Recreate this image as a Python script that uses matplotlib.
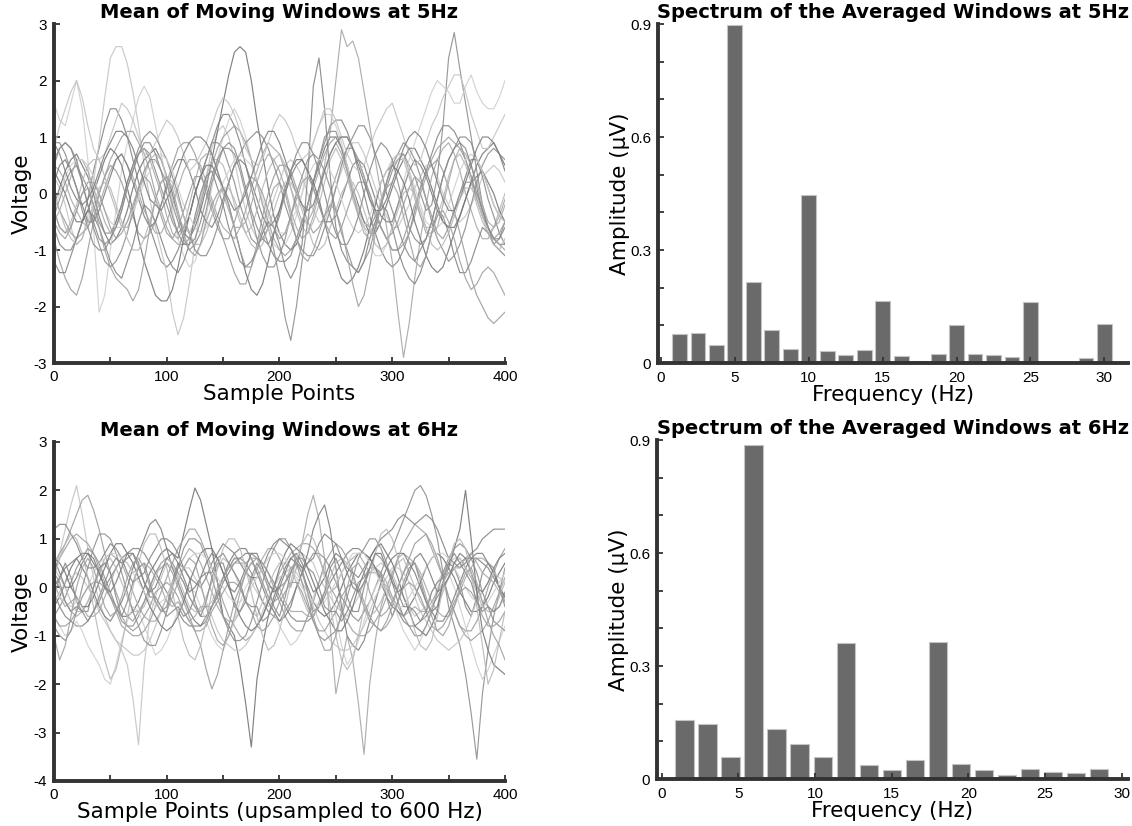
import matplotlib.pyplot as plt
from matplotlib.ticker import MultipleLocator
import numpy as np

plt.rcParams['axes.unicode_minus'] = False

# ---- data ----
# moving windows, 5 Hz condition: voltage every 5 sample points (0..400)
win5 = [
    [-0.6, -0.9, -1.0, -1.0, -0.8, -0.5, -0.1, 0.4, 0.8, 1.2,
     1.5, 1.5, 1.3, 1.0, 0.6, 0.2, -0.2, -0.6, -0.9, -1.2,
     -1.3, -1.2, -1.0, -0.7, -0.4, 0.0, 0.3, 0.6, 0.9, 1.2,
     1.4, 1.4, 1.2, 0.9, 0.5, 0.1, -0.3, -0.6, -0.9, -1.1,
     -1.2, -1.2, -1.1, -0.8, -0.5, -0.2, 0.2, 0.6, 0.9, 1.2,
     1.3, 1.3, 1.1, 0.8, 0.4, 0.0, -0.4, -0.7, -1.0, -1.2,
     -1.3, -1.2, -1.0, -0.7, -0.3, 0.1, 0.4, 0.7, 1.0, 1.2,
     1.2, 1.1, 0.9, 0.6, 0.3, -0.1, -0.4, -0.6, -0.8, -0.9, -0.9],
    [0.3, 0.1, -0.2, -0.6, -0.9, -0.8, -0.4, 0.2, 0.9, 1.7,
     2.4, 2.6, 2.6, 2.3, 1.8, 1.2, 0.5, -0.1, -0.6, -1.0,
     -1.4, -2.1, -2.5, -2.2, -1.6, -0.9, -0.2, 0.3, 0.8, 1.1,
     1.2, 1.0, 0.6, 0.1, -0.3, -0.6, -0.8, -0.7, -0.4, -0.1,
     0.2, 0.5, 0.6, 0.5, 0.3, 0.0, -0.3, -0.5, -0.5, -0.2,
     0.1, 0.4, 0.7, 0.9, 0.9, 0.7, 0.4, 0.1, -0.2, -0.4,
     -0.6, -0.6, -0.4, -0.2, 0.1, 0.3, 0.5, 0.5, 0.3, 0.0,
     -0.2, -0.4, -0.5, -0.4, -0.2, 0.0, 0.3, 0.4, 0.5, 0.4, 0.2],
    [-0.2, 0.1, 0.4, 0.6, 0.7, 0.5, 0.3, 0.0, -0.4, -0.7,
     -0.9, -0.8, -0.6, -0.3, 0.1, 0.4, 0.6, 0.7, 0.8, 0.6,
     0.3, 0.0, -0.4, -0.7, -0.8, -0.6, -0.3, 0.1, 0.6, 1.1,
     1.6, 2.1, 2.5, 2.6, 2.5, 2.0, 1.3, 0.7, 0.1, -0.4,
     -0.7, -0.9, -1.0, -0.9, -0.6, -0.2, 0.2, 0.5, 0.8, 1.0,
     1.0, 0.8, 0.5, 0.1, -0.2, -0.5, -0.7, -0.7, -0.5, -0.2,
     0.1, 0.4, 0.6, 0.8, 0.8, 0.6, 0.4, 0.1, -0.2, -0.5,
     -0.6, -0.6, -0.4, -0.1, 0.2, 0.5, 0.7, 0.8, 0.9, 0.7, 0.5],
    [0.5, 0.4, 0.2, -0.1, -0.3, -0.5, -0.6, -0.4, -0.2, 0.1,
     0.4, 0.6, 0.7, 0.5, 0.3, 0.0, -0.3, -0.5, -0.7, -0.7,
     -0.5, -0.2, 0.1, 0.4, 0.6, 0.6, 0.5, 0.2, -0.1, -0.4,
     -0.6, -0.7, -0.8, -0.6, -0.3, 0.1, 0.4, 0.7, 0.9, 0.8,
     0.7, 0.4, 0.1, -0.2, -0.5, -0.5, -0.3, 0.1, 0.5, 1.1,
     2.0, 2.9, 2.6, 2.7, 2.4, 1.8, 1.2, 0.6, 0.0, -0.6,
     -1.2, -2.1, -2.9, -2.3, -1.5, -0.8, -0.2, 0.3, 0.6, 0.8,
     0.9, 0.7, 0.4, 0.0, -0.3, -0.6, -0.8, -0.8, -0.6, -0.4, -0.1],
    [-0.4, -0.1, 0.2, 0.4, 0.5, 0.3, 0.1, -0.2, -0.5, -0.7,
     -0.7, -0.5, -0.2, 0.2, 0.5, 0.7, 0.8, 0.7, 0.4, 0.1,
     -0.2, -0.5, -0.7, -0.6, -0.4, 0.0, 0.3, 0.6, 0.9, 0.9,
     0.8, 0.5, 0.2, -0.2, -0.5, -0.8, -0.9, -0.8, -0.6, -1.0,
     -1.5, -2.2, -2.6, -2.0, -1.2, -0.5, 0.2, 0.6, 1.0, 1.1,
     1.1, 0.8, 0.4, 0.0, -0.3, -0.5, -0.6, -0.4, -0.2, 0.1,
     0.4, 0.6, 0.7, 0.5, 0.3, 0.0, -0.3, -0.2, 0.3, 1.2,
     2.4, 2.85, 2.2, 1.6, 1.0, 0.4, -0.2, -0.6, -0.9, -0.8, -0.5],
    [1.6, 1.3, 1.2, 1.6, 2.0, 1.5, 0.6, -0.6, -2.1, -1.8,
     -1.0, -0.3, 0.4, 0.9, 1.3, 1.7, 1.9, 1.7, 1.2, 0.7,
     0.2, -0.3, -0.8, -1.1, -1.3, -1.2, -0.9, -0.4, 0.1, 0.6,
     1.0, 1.3, 1.5, 1.3, 1.0, 0.6, 0.2, -0.2, -0.6, -0.9,
     -1.0, -0.9, -0.7, -0.4, 0.0, 0.5, 0.9, 1.2, 1.4, 1.4,
     1.2, 0.9, 0.5, 0.1, -0.3, -0.6, -0.9, -1.1, -1.1, -0.9,
     -0.6, -0.2, 0.2, 0.6, 0.9, 1.2, 1.5, 1.8, 2.0, 1.9,
     1.8, 1.6, 1.6, 1.9, 2.1, 1.8, 1.6, 1.5, 1.5, 1.7, 2.0],
    [-0.8, -1.2, -1.5, -1.7, -1.8, -1.5, -1.0, -0.5, 0.0, 0.3,
     0.5, 0.4, 0.2, -0.1, -0.4, -0.7, -0.8, -0.7, -0.5, -0.2,
     0.2, 0.5, 0.8, 0.9, 0.9, 0.7, 0.4, 0.0, -0.3, -0.6,
     -0.8, -1.1, -1.4, -1.6, -1.6, -1.3, -0.9, -0.4, 0.0, 0.3,
     0.5, 0.5, 0.4, 0.1, -0.2, -0.5, -0.7, -0.6, -0.4, 0.0,
     0.3, 0.6, 0.8, 0.8, 0.6, 0.3, 0.0, -0.3, -0.6, -0.8,
     -1.0, -1.0, -0.8, -0.5, -0.2, 0.1, 0.4, 0.5, 0.6, 0.4,
     0.1, -0.3, -0.7, -1.1, -1.5, -1.8, -2.0, -2.2, -2.3, -2.2, -2.1],
    [0.2, 0.5, 0.6, 0.4, 0.1, -0.2, -0.5, -0.5, -0.3, 0.0,
     0.3, 0.6, 0.7, 0.5, 0.2, -0.1, -0.4, -0.6, -0.5, -0.2,
     0.1, 0.4, 0.6, 0.6, 0.4, 0.1, -0.3, -0.5, -0.6, -0.4,
     -0.1, 0.2, 0.5, 0.6, 0.5, 0.2, -0.1, -0.4, -0.6, -0.5,
     -0.3, 0.0, 0.3, 0.5, 0.6, 0.4, 0.1, -0.2, -0.5, -0.5,
     -0.4, -0.1, 0.2, 0.5, 0.6, 0.5, 0.2, -0.1, -0.4, -0.5,
     -0.5, -0.2, 0.1, 0.4, 0.6, 0.5, 0.3, 0.0, -0.3, -0.5,
     -0.6, -0.3, 0.0, 0.3, 0.6, 0.6, 0.4, 0.1, -0.2, -0.4, -0.5],
    [-0.3, -0.6, -0.7, -0.5, -0.2, 0.2, 0.5, 0.6, 0.6, 0.3,
     0.0, -0.3, -0.6, -0.6, -0.4, 0.0, 0.3, 0.6, 0.7, 0.6,
     0.3, -0.1, -0.4, -0.6, -0.7, -0.5, -0.1, 0.3, 0.6, 0.6,
     0.5, 0.2, -0.2, -0.5, -0.7, -0.6, -0.3, 0.1, 0.4, 0.6,
     0.7, 0.5, 0.1, -0.3, -0.6, -0.7, -0.5, -0.2, 0.2, 0.6,
     0.8, 0.6, 0.3, -0.1, -0.4, -0.6, -0.7, -0.5, -0.1, 0.2,
     0.5, 0.6, 0.6, 0.3, -0.1, -0.4, -0.6, -0.6, -0.4, -0.1,
     0.3, 0.6, 0.7, 0.5, 0.2, -0.2, -0.5, -0.7, -0.6, -0.3, 0.0],
    [0.9, 0.9, 0.7, 0.4, 0.1, -0.3, -0.6, -0.9, -1.0, -1.0,
     -0.8, -0.5, -0.2, 0.2, 0.5, 0.8, 1.0, 1.1, 1.0, 0.8,
     0.6, 0.3, 0.0, -0.4, -0.7, -1.0, -1.1, -1.1, -0.9, -0.6,
     -0.2, 0.2, 0.5, 0.7, 0.9, 1.0, 1.1, 1.0, 0.8, 0.5,
     0.2, -0.2, -0.5, -0.8, -1.0, -1.1, -1.1, -0.9, -0.6, -0.3,
     0.1, 0.5, 0.8, 1.0, 1.2, 1.2, 1.0, 0.7, 0.4, 0.0,
     -0.3, -0.6, -0.9, -1.1, -1.2, -1.0, -0.8, -0.5, -0.1, 0.3,
     0.6, 0.8, 1.0, 1.0, 0.9, 0.6, 0.3, -0.1, -0.4, -0.7, -0.9],
    [0.0, -0.3, -0.5, -0.7, -0.8, -0.7, -0.6, -0.3, 0.0, 0.3,
     0.6, 0.8, 1.0, 1.1, 1.1, 0.9, 0.7, 0.4, 0.0, -0.3,
     -0.6, -0.8, -0.9, -0.9, -0.8, -0.5, -0.2, 0.2, 0.5, 0.8,
     1.0, 1.1, 1.2, 1.1, 0.9, 0.6, 0.2, -0.2, -0.5, -0.8,
     -1.0, -1.1, -1.0, -0.8, -0.5, -0.2, 0.1, 0.4, 0.7, 0.9,
     1.0, 1.0, 1.0, 0.8, 0.6, 0.3, -0.1, -0.4, -0.6, -0.8,
     -1.0, -1.0, -0.9, -0.7, -0.4, 0.0, 0.3, 0.6, 0.8, 0.9,
     1.0, 0.9, 0.8, 0.6, 0.3, 0.0, -0.3, -0.6, -0.8, -0.9, -1.0],
    [-1.2, -1.4, -1.4, -1.1, -0.8, -0.5, -0.3, -0.4, -0.6, -0.9,
     -1.2, -1.4, -1.5, -1.2, -0.9, -0.5, -0.2, -0.3, -0.5, -0.8,
     -1.1, -1.3, -1.4, -1.2, -0.9, -0.4, 0.0, 0.3, 0.4, 0.1,
     -0.2, -0.6, -0.9, -1.2, -1.3, -1.2, -1.0, -0.7, -0.5, -0.6,
     -0.9, -1.3, -1.5, -1.3, -0.9, 0.3, 1.9, 2.4, 1.5, 0.3,
     -0.6, -1.0, -1.2, -1.3, -1.4, -1.2, -0.8, -0.5, -0.2, -0.3,
     -0.6, -1.0, -1.3, -1.5, -1.6, -1.4, -1.1, -0.7, -0.3, -0.4,
     -0.7, -1.1, -1.4, -1.4, -1.2, -0.9, -0.6, -0.7, -0.9, -1.0, -1.1],
    [0.8, 1.2, 1.5, 1.8, 2.0, 1.7, 1.2, 0.8, 0.6, 0.7,
     1.0, 1.3, 1.6, 1.5, 1.3, 1.0, 0.7, 0.7, 0.9, 1.1,
     1.3, 1.2, 1.0, 0.7, 0.4, 0.5, 0.7, 0.9, 1.2, 1.5,
     1.7, 1.6, 1.4, 1.1, 0.8, 0.6, 0.5, 0.6, 0.9, 1.2,
     1.4, 1.3, 1.1, 0.8, 0.6, 0.7, 0.9, 1.2, 1.5, 1.5,
     1.3, 1.0, 0.7, 0.5, 0.4, 0.5, 0.8, 1.1, 1.3, 1.5,
     1.6, 1.3, 1.0, 0.7, 0.5, 0.6, 0.9, 1.2, 1.4, 1.7,
     1.9, 2.1, 2.1, 1.8, 1.4, 1.1, 0.8, 0.8, 1.0, 1.2, 1.4],
    [0.4, 0.2, 0.0, -0.3, -0.5, -0.5, -0.3, 0.0, 0.3, 0.6,
     0.8, 0.7, 0.5, 0.1, -0.3, -0.8, -1.2, -1.5, -1.8, -1.9,
     -1.9, -1.7, -1.3, -0.8, -0.4, 0.0, 0.3, 0.5, 0.5, 0.3,
     0.1, -0.2, -0.6, -1.0, -1.4, -1.7, -1.8, -1.6, -1.2, -0.7,
     -0.3, 0.1, 0.4, 0.6, 0.6, 0.4, 0.2, -0.1, -0.5, -0.9,
     -1.2, -1.5, -1.6, -1.5, -1.3, -1.0, -0.6, -0.2, 0.2, 0.4,
     0.5, 0.4, 0.2, -0.1, -0.5, -0.8, -1.1, -1.3, -1.4, -1.3,
     -1.0, -0.7, -0.4, -0.1, 0.2, 0.3, 0.4, 0.2, 0.0, -0.3, -0.5],
    [-0.5, -0.3, 0.0, 0.3, 0.6, 0.6, 0.4, 0.1, -0.2, -0.5,
     -0.7, -0.6, -0.3, 0.1, 0.4, 0.7, 0.8, 0.6, 0.3, 0.0,
     -0.4, -0.7, -0.8, -0.6, -0.2, 0.2, 0.6, 0.7, 0.7, 0.4,
     0.0, -0.3, -0.6, -0.6, -0.5, -0.2, 0.2, 0.5, 0.7, 0.6,
     0.4, 0.1, -0.3, -0.6, -0.8, -0.7, -0.4, 0.0, 0.4, 0.7,
     0.9, 0.7, 0.4, 0.0, -0.4, -0.7, -0.8, -0.6, -0.2, 0.2,
     0.6, 0.7, 0.7, 0.4, 0.0, -0.4, -0.7, -0.7, -0.6, -0.2,
     0.2, 0.6, 0.8, 0.7, 0.5, 0.2, -0.2, -0.5, -0.6, -0.5, -0.2],
    [0.6, 0.8, 0.9, 0.8, 0.5, 0.2, -0.2, -0.6, -0.9, -1.2,
     -1.3, -1.2, -1.0, -0.7, -0.3, 0.1, 0.4, 0.6, 0.6, 0.4,
     0.2, -0.2, -0.5, -0.8, -1.0, -0.9, -0.7, -0.3, 0.2, 0.5,
     0.8, 0.8, 0.7, 0.4, 0.0, -0.4, -0.8, -1.1, -1.3, -1.3,
     -1.1, -0.8, -0.4, 0.0, 0.3, 0.6, 0.7, 0.6, 0.4, 0.1,
     -0.3, -0.7, -1.0, -1.3, -1.4, -1.2, -1.0, -0.6, -0.2, 0.2,
     0.5, 0.7, 0.9, 0.8, 0.6, 0.3, -0.1, -0.5, -0.8, -1.0,
     -1.2, -1.1, -0.9, -0.6, -0.2, 0.2, 0.5, 0.7, 0.8, 0.7, 0.6],
    [-0.3, 0.0, 0.3, 0.5, 0.6, 0.6, 0.5, 0.3, 0.0, -0.3,
     -0.5, -0.6, -0.6, -0.5, -0.3, -0.1, 0.2, 0.4, 0.6, 0.7,
     0.6, 0.4, 0.1, -0.2, -0.4, -0.6, -0.7, -0.6, -0.4, -0.1,
     0.2, 0.4, 0.6, 0.7, 0.6, 0.5, 0.2, -0.1, -0.4, -0.6,
     -0.7, -0.7, -0.5, -0.3, 0.0, 0.3, 0.5, 0.6, 0.6, 0.4,
     0.2, -0.1, -0.4, -0.6, -0.7, -0.6, -0.4, -0.1, 0.2, 0.4,
     0.6, 0.7, 0.6, 0.4, 0.1, -0.2, -0.5, -0.6, -0.6, -0.5,
     -0.2, 0.1, 0.4, 0.6, 0.7, 0.6, 0.4, 0.1, -0.2, -0.4, -0.5],
    [-0.3, -0.6, -0.7, -0.6, -0.3, 0.0, 0.2, 0.2, 0.0, -0.3,
     -0.6, -0.8, -0.7, -0.5, -0.2, 0.1, 0.3, 0.2, -0.1, -0.4,
     -0.7, -0.8, -0.6, -0.3, 0.0, 0.3, 0.3, 0.1, -0.2, -0.5,
     -0.8, -0.8, -0.5, -0.2, 0.1, 0.3, 0.2, 0.0, -0.3, -0.6,
     -0.8, -0.7, -0.4, -0.1, 0.2, 0.3, 0.1, -0.2, -0.5, -0.7,
     -0.8, -0.6, -0.3, 0.0, 0.2, 0.2, 0.0, -0.3, -0.6, -0.8,
     -0.7, -0.5, -0.2, 0.1, 0.3, 0.2, -0.1, -0.4, -0.7, -0.8,
     -0.6, -0.3, 0.0, 0.2, 0.2, 0.0, -0.3, -0.6, -0.8, -0.7, -0.5],
    [0.9, 0.7, 0.4, 0.1, -0.1, -0.2, -0.1, 0.1, 0.4, 0.7,
     0.9, 1.1, 1.1, 1.0, 0.8, 0.5, 0.2, -0.1, -0.2, -0.3,
     -0.1, 0.1, 0.4, 0.7, 0.9, 1.0, 1.0, 0.9, 0.7, 0.4,
     0.1, -0.1, -0.3, -0.2, 0.0, 0.3, 0.6, 0.9, 1.1, 1.1,
     0.9, 0.6, 0.3, 0.0, -0.2, -0.3, -0.2, 0.1, 0.4, 0.7,
     0.9, 1.0, 1.0, 0.8, 0.5, 0.2, -0.1, -0.3, -0.3, -0.1,
     0.2, 0.5, 0.8, 1.0, 1.1, 1.0, 0.8, 0.5, 0.2, -0.1,
     -0.3, -0.3, -0.1, 0.2, 0.5, 0.8, 1.0, 1.0, 0.9, 0.7, 0.4],
    [-0.1, -0.3, -0.6, -0.8, -0.9, -0.8, -0.5, -0.2, 0.1, 0.2,
     0.1, -0.2, -0.5, -0.8, -1.0, -1.0, -0.8, -0.5, -0.1, 0.2,
     0.3, 0.2, -0.1, -0.4, -0.7, -0.9, -0.9, -0.7, -0.4, -0.1,
     0.1, 0.1, -0.1, -0.4, -0.7, -0.9, -1.0, -0.9, -0.6, -0.3,
     0.0, 0.2, 0.2, 0.0, -0.3, -0.6, -0.9, -1.0, -0.9, -0.6,
     -0.3, 0.0, 0.2, 0.2, 0.0, -0.3, -0.6, -0.9, -1.0, -0.9,
     -0.6, -0.3, 0.0, 0.1, 0.0, -0.3, -0.6, -0.9, -1.0, -0.9,
     -0.7, -0.4, -0.1, 0.1, 0.1, -0.1, -0.4, -0.7, -0.9, -1.0, -0.8],
    [0.5, 0.8, 0.9, 0.8, 0.6, 0.2, -0.2, -0.5, -0.8, -0.9,
     -0.8, -0.6, -0.3, 0.1, 0.4, 0.7, 0.9, 0.9, 0.7, 0.4,
     0.0, -0.4, -0.7, -0.9, -0.9, -0.8, -0.5, -0.1, 0.3, 0.6,
     0.8, 0.9, 0.8, 0.5, 0.1, -0.3, -0.6, -0.8, -0.9, -0.7,
     -0.4, 0.0, 0.4, 0.7, 0.9, 0.9, 0.7, 0.4, 0.0, -0.4,
     -0.7, -0.9, -0.9, -0.7, -0.4, 0.0, 0.4, 0.7, 0.9, 0.8,
     0.6, 0.2, -0.2, -0.6, -0.8, -0.9, -0.8, -0.5, -0.1, 0.3,
     0.6, 0.8, 0.9, 0.8, 0.5, 0.1, -0.3, -0.6, -0.8, -0.8, -0.6],
    [-0.5, -0.7, -0.8, -0.6, -0.3, 0.0, 0.1, -0.2, -0.6, -1.0,
     -1.3, -1.5, -1.6, -1.7, -1.9, -1.7, -1.2, -0.6, -0.1, 0.2,
     0.3, 0.1, -0.3, -0.7, -1.0, -1.1, -0.9, -0.5, -0.2, 0.0,
     0.1, -0.2, -0.6, -1.0, -1.3, -1.3, -1.0, -0.6, -0.2, 0.1,
     0.2, 0.0, -0.4, -0.8, -1.1, -1.2, -1.0, -0.7, -0.4, -0.2,
     -0.3, -0.6, -1.1, -1.6, -2.0, -1.8, -1.3, -0.7, -0.2, 0.1,
     0.2, 0.0, -0.4, -0.8, -1.2, -1.3, -1.1, -0.7, -0.4, -0.3,
     -0.5, -0.8, -1.2, -1.5, -1.7, -1.6, -1.4, -1.3, -1.4, -1.6, -1.8],
]

# moving windows, 6 Hz condition (upsampled to 600 Hz), every 5 sample points
win6 = [
    [-0.1, -0.4, -0.6, -0.7, -0.8, -0.8, -0.7, -0.5, -0.3, 0.0,
     0.2, 0.4, 0.6, 0.7, 0.8, 0.8, 0.7, 0.5, 0.3, 0.1,
     -0.1, -0.3, -0.5, -0.7, -0.8, -0.8, -0.8, -0.6, -0.4, -0.2,
     0.1, 0.3, 0.5, 0.6, 0.7, 0.7, 0.6, 0.5, 0.3, 0.1,
     -0.2, -0.4, -0.6, -0.7, -0.7, -0.7, -0.6, -0.4, -0.2, 0.1,
     0.3, 0.5, 0.7, 0.8, 0.8, 0.7, 0.6, 0.4, 0.2, 0.0,
     -0.3, -0.5, -0.7, -0.8, -0.8, -0.7, -0.6, -0.4, -0.2, 0.0,
     0.2, 0.4, 0.5, 0.6, 0.6, 0.6, 0.5, 0.4, 0.2, 0.0, -0.2],
    [0.3, 0.7, 1.2, 1.7, 2.1, 1.5, 0.8, 0.2, -0.3, -0.6,
     -0.9, -1.1, -1.3, -1.6, -2.3, -3.25, -1.6, -0.6, -0.2, 0.2,
     0.5, 0.4, 0.3, 0.1, -0.2, -0.4, -0.5, -0.4, -0.3, 0.0,
     0.2, 0.4, 0.6, 0.5, 0.4, 0.1, -0.1, -0.3, -0.4, -0.3,
     -0.2, 0.1, 0.3, 0.5, 0.7, 0.6, 0.5, 0.2, 0.0, -0.2,
     -0.4, -0.5, -0.6, -0.4, -0.2, 0.1, 0.3, 0.4, 0.5, 0.4,
     0.3, 0.0, -0.2, -0.4, -0.6, -0.5, -0.4, -0.1, 0.1, 0.3,
     0.5, 0.6, 0.6, 0.4, 0.2, 0.0, -0.3, -0.4, -0.5, -0.4, -0.2],
    [-0.4, -0.2, 0.1, 0.4, 0.6, 0.7, 0.7, 0.5, 0.3, 0.0,
     -0.2, -0.4, -0.6, -0.6, -0.5, -0.3, 0.0, 0.3, 0.5, 0.7,
     0.8, 0.7, 0.6, 1.1, 1.6, 2.05, 1.8, 1.3, 0.8, 0.1,
     -0.6, -0.8, -1.0, -1.6, -2.4, -3.3, -1.9, -1.2, -0.6, -0.2,
     0.1, 0.4, 0.6, 0.5, 0.3, 0.0, -0.3, -0.5, -0.6, -0.5,
     -0.3, 0.0, 0.3, 0.5, 0.7, 0.7, 0.6, 0.4, 0.1, -0.2,
     -0.4, -0.5, -0.6, -0.4, -0.2, 0.1, 0.4, 0.6, 0.7, 0.6,
     0.4, 0.2, -0.1, -0.3, -0.5, -0.5, -0.4, -0.2, 0.1, 0.3, 0.5],
    [0.2, 0.0, -0.3, -0.5, -0.6, -0.5, -0.3, 0.0, 0.3, 0.6,
     0.7, 0.6, 0.5, 0.2, -0.1, -0.4, -0.6, -0.7, -0.7, -0.5,
     -0.2, 0.1, 0.4, 0.6, 0.8, 0.7, 0.5, 0.2, -0.1, -0.4,
     -0.6, -0.7, -0.7, -0.5, -0.2, 0.1, 0.4, 0.6, 0.8, 0.8,
     0.6, 0.3, 0.0, 0.4, 0.9, 1.5, 1.9, 1.4, 0.6, -0.8,
     -2.2, -1.6, -1.0, -1.5, -2.4, -3.45, -2.0, -1.1, -0.4, 0.0,
     0.3, 0.6, 0.7, 0.6, 0.5, 0.3, 0.0, -0.3, -0.5, -0.6,
     -0.6, -0.4, -0.1, 0.2, 0.4, 0.6, 0.6, 0.5, 0.3, 0.0, -0.3],
    [-0.6, -0.4, -0.2, 0.1, 0.4, 0.6, 0.8, 0.7, 0.5, 0.2,
     -0.1, -0.4, -0.7, -0.8, -0.8, -0.6, -0.3, 0.0, 0.3, 0.5,
     0.6, 0.5, 0.3, 0.1, -0.2, -0.4, -0.6, -0.6, -0.4, -0.1,
     0.2, 0.4, 0.6, 0.6, 0.5, 0.3, 0.0, -0.3, -0.5, -0.6,
     -0.7, -0.5, -0.3, 0.0, 0.3, 0.5, 0.7, 0.7, 0.6, 0.4,
     0.1, -0.2, -0.4, -0.6, -0.7, -0.5, -0.3, 0.0, 0.3, 0.6,
     0.8, 1.1, 1.4, 1.7, 2.0, 2.1, 1.9, 1.5, 1.0, 0.3,
     -0.4, -0.8, -1.2, -1.8, -2.6, -3.55, -2.2, -1.3, -0.6, -0.1, 0.4],
    [-0.6, -0.8, -1.0, -0.9, -0.7, -0.9, -1.2, -1.4, -1.6, -1.9,
     -2.0, -1.6, -1.1, -0.7, -0.4, -0.5, -0.8, -1.1, -1.4, -1.3,
     -1.1, -0.8, -0.5, -0.2, 0.0, -0.1, -0.4, -0.7, -1.0, -1.2,
     -1.3, -1.0, -0.7, -0.3, 0.0, 0.2, 0.3, 0.1, -0.2, -0.5,
     -0.8, -1.0, -1.2, -1.1, -0.9, -0.6, -0.2, 0.1, 0.4, 0.0,
     -0.6, -1.2, -1.6, -1.4, -1.1, -0.7, -0.3, 0.0, 0.2, 0.0,
     -0.2, -0.6, -0.9, -1.1, -1.3, -1.1, -0.8, -0.4, 0.0, 0.2,
     0.3, 0.0, -0.4, -0.8, -1.2, -1.6, -1.9, -1.7, -1.4, -1.1, -0.8],
    [0.5, 0.7, 0.9, 1.2, 1.5, 1.8, 1.9, 1.6, 1.2, 0.7,
     0.3, -0.1, -0.4, -0.6, -0.7, -0.5, -0.3, 0.0, 0.3, 0.4,
     0.5, 0.3, 0.0, -0.3, -0.6, -0.9, -1.2, -1.7, -2.1, -1.8,
     -1.3, -0.8, -0.3, 0.0, 0.3, 0.5, 0.6, 0.5, 0.3, 0.0,
     -0.3, -0.6, -0.8, -0.9, -0.9, -0.6, -0.3, 0.1, 0.5, 0.7,
     0.9, 0.8, 0.6, 0.3, -0.1, -0.4, -0.7, -0.8, -0.9, -0.7,
     -0.4, 0.0, 0.3, 0.6, 0.9, 1.0, 1.1, 0.9, 0.6, 0.2,
     -0.2, -0.5, -0.8, -0.9, -0.9, -0.7, -0.4, 0.0, 0.3, 0.6, 0.8],
    [0.0, 0.2, 0.4, 0.5, 0.6, 0.4, 0.2, -0.1, -0.4, -0.6,
     -0.7, -0.5, -0.3, 0.0, 0.4, 0.7, 1.0, 1.3, 1.4, 1.2,
     0.8, 0.4, 0.1, -0.2, -0.5, -0.7, -0.8, -0.7, -0.4, -0.1,
     0.2, 0.5, 0.7, 0.8, 0.8, 0.6, 0.3, 0.0, -0.3, -0.5,
     -0.7, -0.6, -0.4, 0.0, 0.3, 0.7, 1.2, 1.5, 1.7, 1.2,
     0.4, -0.4, -1.0, -1.2, -1.3, -1.1, -0.7, -0.3, 0.1, 0.4,
     0.6, 0.7, 0.7, 0.5, 0.3, 0.0, -0.3, -0.5, -0.7, -0.7,
     -0.5, -0.2, 0.1, 0.4, 0.6, 0.7, 0.7, 0.5, 0.3, 0.0, -0.2],
    [0.4, 0.2, 0.0, -0.3, -0.5, -0.5, -0.3, 0.0, 0.3, 0.5,
     0.6, 0.4, 0.1, -0.2, -0.5, -0.5, -0.4, -0.1, 0.2, 0.5,
     0.6, 0.5, 0.2, -0.1, -0.4, -0.5, -0.5, -0.2, 0.1, 0.4,
     0.6, 0.5, 0.3, 0.0, -0.3, -0.5, -0.6, -0.3, 0.0, 0.3,
     0.5, 0.5, 0.4, 0.1, -0.2, -0.5, -0.6, -0.4, -0.1, 0.2,
     0.5, 0.6, 0.5, 0.2, -0.1, -0.4, -0.6, -0.5, -0.3, 0.0,
     0.3, 0.5, 0.6, 0.3, 0.0, -0.3, -0.5, -0.5, -0.4, -0.1,
     0.2, 0.5, 0.6, 0.4, 0.2, -0.1, -0.4, -0.5, -0.5, -0.2, 0.1],
    [-0.2, 0.2, 0.5, 0.2, -0.3, -0.5, -0.5, 0.0, 0.4, 0.5,
     0.3, -0.2, -0.6, -0.3, 0.1, 0.4, 0.5, 0.1, -0.3, -0.5,
     -0.4, 0.1, 0.5, 0.4, 0.2, -0.3, -0.6, -0.3, 0.2, 0.5,
     0.5, 0.1, -0.4, -0.5, -0.3, 0.2, 0.5, 0.3, 0.0, -0.4,
     -0.6, -0.2, 0.3, 0.5, 0.4, -0.1, -0.5, -0.4, -0.1, 0.4,
     0.6, 0.3, -0.2, -0.5, -0.5, 0.0, 0.4, 0.4, 0.3, -0.2,
     -0.6, -0.3, 0.1, 0.4, 0.5, 0.1, -0.3, -0.5, -0.4, 0.1,
     0.5, 0.4, 0.1, -0.4, -0.6, -0.2, 0.3, 0.5, 0.4, 0.0, -0.4],
    [0.3, 0.6, 0.8, 1.0, 1.1, 1.0, 0.9, 0.7, 0.4, 0.1,
     -0.2, -0.5, -0.8, -0.9, -1.0, -1.0, -0.9, -0.7, -0.4, -0.1,
     0.2, 0.5, 0.8, 1.0, 1.2, 1.2, 1.0, 0.7, 0.4, 0.1,
     -0.3, -0.6, -0.8, -1.0, -1.1, -1.0, -0.8, -0.6, -0.3, 0.0,
     0.3, 0.5, 0.7, 0.8, 0.9, 0.9, 0.8, 0.6, 0.3, 0.0,
     -0.2, -0.5, -0.7, -0.9, -1.0, -1.0, -0.9, -0.7, -0.5, -0.2,
     0.2, 0.6, 0.9, 1.1, 1.3, 1.2, 1.1, 0.8, 0.5, 0.2,
     -0.2, -0.5, -0.8, -1.0, -1.1, -1.0, -0.9, -0.7, -0.4, -0.1, 0.2],
    [1.2, 1.3, 1.3, 1.1, 0.9, 0.6, 0.4, 0.4, 0.5, 0.7,
     0.9, 0.8, 0.6, 0.3, 0.1, 0.2, 0.3, 0.6, 0.8, 1.0,
     1.0, 0.9, 0.7, 0.4, 0.2, 0.1, 0.0, 0.2, 0.5, 0.7,
     0.9, 0.8, 0.7, 0.5, 0.3, 0.2, 0.2, 0.4, 0.7, 0.9,
     1.0, 0.9, 0.8, 0.6, 0.4, 0.5, 0.6, 0.9, 1.1, 1.0,
     0.9, 0.6, 0.4, 0.3, 0.2, 0.4, 0.6, 0.8, 1.0, 1.1,
     1.2, 1.4, 1.5, 1.4, 1.3, 1.4, 1.5, 1.4, 1.2, 0.9,
     0.6, 0.5, 0.4, 0.5, 0.7, 0.8, 1.0, 1.1, 1.2, 1.2, 1.2],
    [-0.3, -0.1, 0.1, 0.2, 0.3, 0.2, 0.0, -0.2, -0.5, -0.7,
     -0.9, -1.1, -1.2, -1.3, -1.4, -1.4, -1.3, -1.1, -0.8, -0.5,
     -0.2, 0.1, 0.3, 0.4, 0.4, 0.2, 0.0, -0.3, -0.6, -0.9,
     -1.1, -1.2, -1.3, -1.3, -1.2, -1.0, -0.8, -0.5, -0.2, 0.0,
     0.2, 0.3, 0.4, 0.3, 0.1, -0.1, -0.4, -0.7, -0.9, -1.1,
     -1.2, -1.3, -1.3, -1.2, -1.0, -0.8, -0.5, -0.2, 0.0, 0.2,
     0.4, 0.4, 0.3, 0.1, -0.2, -0.5, -0.7, -0.9, -1.1, -1.2,
     -1.3, -1.2, -1.1, -0.9, -0.6, -0.3, -0.1, 0.1, 0.3, 0.2, 0.1],
    [0.6, 0.5, 0.3, 0.0, -0.2, -0.4, -0.4, -0.2, 0.1, 0.4,
     0.7, 0.9, 0.9, 0.7, 0.5, 0.2, -0.1, -0.4, -0.6, -0.8,
     -0.9, -0.8, -0.6, -0.3, 0.1, 0.4, 0.7, 0.8, 0.8, 0.6,
     0.3, 0.0, -0.3, -0.6, -0.8, -0.9, -0.8, -0.6, -0.3, 0.0,
     0.4, 0.7, 0.9, 0.8, 0.7, 0.4, 0.1, -0.2, -0.5, -0.7,
     -0.9, -0.9, -0.7, -0.4, 0.0, 0.3, 0.6, 0.8, 0.9, 0.7,
     0.5, 0.2, -0.2, -0.5, -0.8, -0.9, -1.0, -0.8, -0.5, 0.1,
     0.4, 0.8, 1.2, 2.0, 1.0, -0.1, -0.9, -1.3, -1.6, -1.7, -1.8],
    [0.1, -0.2, -0.4, -0.3, -0.2, -0.4, -0.6, -0.6, -0.5, -0.2,
     0.1, 0.4, 0.6, 0.5, 0.3, 0.4, 0.5, 0.4, 0.2, 0.0,
     -0.3, -0.4, -0.3, -0.5, -0.7, -0.6, -0.4, -0.4, -0.4, -0.1,
     0.2, 0.4, 0.5, 0.5, 0.5, 0.6, 0.6, 0.3, 0.0, 0.0,
     0.0, -0.3, -0.5, -0.5, -0.5, -0.6, -0.6, -0.3, -0.1, -0.1,
     0.0, 0.3, 0.5, 0.6, 0.7, 0.5, 0.3, 0.3, 0.3, 0.1,
     -0.2, -0.4, -0.6, -0.5, -0.4, -0.5, -0.5, -0.3, -0.1, 0.1,
     0.3, 0.4, 0.4, 0.6, 0.7, 0.5, 0.3, 0.2, 0.1, -0.1, -0.3],
    [-0.8, -1.0, -1.1, -0.9, -0.5, 0.0, 0.4, 0.8, 1.1, 1.1,
     1.0, 0.7, 0.3, -0.1, -0.5, -0.8, -1.1, -1.2, -1.2, -0.9,
     -0.5, 0.0, 0.4, 0.8, 1.0, 1.0, 0.9, 0.6, 0.2, -0.2,
     -0.6, -0.9, -1.1, -1.1, -1.0, -0.7, -0.3, 0.1, 0.5, 0.8,
     1.0, 1.0, 0.8, 0.5, 0.1, -0.3, -0.7, -1.0, -1.1, -1.0,
     -0.9, -0.6, -0.2, 0.2, 0.6, 0.8, 1.0, 1.0, 0.8, 0.5,
     0.1, -0.3, -0.6, -0.8, -1.0, -1.0, -0.8, -0.5, -0.1, 0.3,
     0.6, 0.8, 0.9, 0.8, 0.6, 0.3, -0.1, -0.4, -0.7, -0.8, -0.9],
    [0.0, -0.2, -0.3, -0.4, -0.3, -0.2, 0.0, 0.3, 0.5, 0.6,
     0.7, 0.7, 0.6, 0.5, 0.3, 0.1, -0.1, -0.3, -0.4, -0.3,
     -0.2, 0.0, 0.2, 0.4, 0.6, 0.7, 0.7, 0.6, 0.4, 0.2,
     0.0, -0.2, -0.3, -0.3, -0.2, 0.0, 0.2, 0.4, 0.6, 0.7,
     0.7, 0.6, 0.4, 0.2, 0.0, -0.2, -0.3, -0.4, -0.3, -0.1,
     0.1, 0.3, 0.5, 0.7, 0.7, 0.7, 0.5, 0.3, 0.1, -0.1,
     -0.3, -0.4, -0.4, -0.2, 0.0, 0.2, 0.4, 0.6, 0.7, 0.7,
     0.6, 0.4, 0.2, 0.0, -0.2, -0.3, -0.4, -0.3, -0.1, 0.1, 0.3],
    [-0.6, -0.8, -0.8, -0.7, -0.5, -0.2, 0.0, 0.1, 0.1, 0.0,
     -0.2, -0.4, -0.6, -0.8, -0.9, -0.8, -0.6, -0.4, -0.1, 0.0,
     0.1, 0.0, -0.2, -0.5, -0.7, -0.9, -0.9, -0.8, -0.5, -0.3,
     -0.1, 0.1, 0.1, 0.0, -0.3, -0.5, -0.8, -0.9, -0.8, -0.6,
     -0.3, -0.1, 0.1, 0.1, -0.1, -0.4, -0.7, -0.9, -0.9, -0.7,
     -0.5, -0.2, 0.0, 0.1, 0.0, -0.3, -0.6, -0.8, -0.9, -0.8,
     -0.6, -0.3, 0.0, 0.1, 0.0, -0.2, -0.5, -0.8, -0.9, -0.8,
     -0.6, -0.3, -0.1, 0.0, -0.1, -0.3, -0.6, -0.8, -0.8, -0.7, -0.5],
    [0.6, 0.3, 0.0, 0.0, 0.2, 0.5, 0.7, 0.6, 0.3, 0.0,
     -0.1, 0.1, 0.4, 0.7, 0.7, 0.4, 0.1, -0.1, 0.0, 0.3,
     0.6, 0.7, 0.5, 0.2, -0.1, 0.0, 0.2, 0.5, 0.7, 0.6,
     0.3, 0.0, -0.1, 0.1, 0.4, 0.7, 0.7, 0.4, 0.1, -0.1,
     0.0, 0.3, 0.6, 0.7, 0.5, 0.2, -0.1, 0.0, 0.2, 0.5,
     0.7, 0.6, 0.3, 0.0, -0.1, 0.1, 0.4, 0.7, 0.7, 0.4,
     0.1, -0.1, 0.0, 0.3, 0.6, 0.7, 0.5, 0.2, -0.1, 0.0,
     0.2, 0.5, 0.7, 0.6, 0.3, 0.0, -0.1, 0.1, 0.4, 0.6, 0.7],
    [0.2, 0.6, 0.9, 1.1, 1.0, 0.7, 0.2, -0.4, -1.0, -1.5,
     -1.9, -1.7, -1.2, -0.6, 0.0, 0.5, 0.9, 1.1, 1.1, 0.8,
     0.4, -0.1, -0.6, -1.1, -1.4, -1.5, -1.2, -0.7, -0.1, 0.4,
     0.8, 1.0, 1.0, 0.8, 0.4, -0.1, -0.6, -1.0, -1.3, -1.2,
     -0.9, -0.4, 0.1, 0.6, 0.9, 1.1, 1.0, 0.7, 0.2, -0.4,
     -1.0, -1.5, -1.7, -1.5, -1.0, -0.4, 0.2, 0.7, 1.1, 1.2,
     1.0, 0.6, 0.1, -0.4, -0.9, -1.2, -1.3, -1.1, -0.6, 0.0,
     0.5, 0.9, 1.0, 0.8, 0.3, -0.4, -1.2, -2.0, -1.7, -1.1, -0.5],
    [0.3, 0.1, -0.3, -0.5, -0.4, -0.5, -0.7, -0.5, -0.2, 0.1,
     0.4, 0.6, 0.5, 0.6, 0.7, 0.5, 0.1, -0.2, -0.2, -0.4,
     -0.6, -0.5, -0.4, -0.6, -0.5, -0.2, 0.2, 0.3, 0.3, 0.6,
     0.7, 0.5, 0.3, 0.1, -0.3, -0.4, -0.4, -0.7, -0.6, -0.3,
     0.0, 0.1, 0.3, 0.6, 0.6, 0.4, 0.3, 0.0, -0.4, -0.5,
     -0.5, -0.7, -0.5, -0.2, 0.1, 0.2, 0.4, 0.7, 0.6, 0.4,
     0.2, -0.1, -0.4, -0.4, -0.5, -0.7, -0.5, -0.1, 0.1, 0.2,
     0.5, 0.7, 0.5, 0.3, 0.1, -0.3, -0.5, -0.4, -0.5, -0.4, -0.1],
    [-1.0, -1.5, -1.2, -0.6, 0.0, 0.4, 0.6, 0.4, 0.0, -0.4,
     -0.6, -0.5, -0.2, 0.2, 0.5, 0.6, 0.4, 0.0, -0.3, -0.5,
     -0.5, -0.2, 0.1, 0.4, 0.6, 0.5, 0.1, -0.4, -0.8, -1.1,
     -1.2, -1.0, -0.6, -0.1, 0.3, 0.5, 0.4, 0.1, -0.2, -0.3,
     -0.2, 0.1, 0.4, 0.5, 0.3, -0.1, -0.6, -1.0, -1.3, -1.3,
     -1.0, -0.5, 0.0, 0.4, 0.5, 0.3, -0.1, -0.4, -0.6, -0.5,
     -0.3, 0.0, 0.3, 0.5, 0.5, 0.2, -0.2, -0.6, -0.9, -1.0,
     -0.8, -0.4, 0.0, 0.3, 0.4, 0.1, -0.3, -0.7, -1.0, -1.2, -1.5],
]

# spectra of the averaged windows
freq5 = [1.25, 2.5, 3.75, 5.0, 6.25, 7.5, 8.75, 10.0, 11.25, 12.5, 13.75, 15.0,
         16.25, 17.5, 18.75, 20.0, 21.25, 22.5, 23.75, 25.0, 26.25, 27.5, 28.75, 30.0]
amp5 = [0.077, 0.080, 0.049, 0.898, 0.216, 0.088, 0.037, 0.447, 0.031, 0.021, 0.035, 0.166,
        0.019, 0.005, 0.025, 0.102, 0.023, 0.021, 0.016, 0.162, 0.002, 0.002, 0.013, 0.104]
freq6 = [1.5, 3.0, 4.5, 6.0, 7.5, 9.0, 10.5, 12.0, 13.5, 15.0, 16.5, 18.0,
         19.5, 21.0, 22.5, 24.0, 25.5, 27.0, 28.5]
amp6 = [0.156, 0.146, 0.058, 0.886, 0.132, 0.094, 0.058, 0.362, 0.038, 0.025, 0.051, 0.364,
        0.040, 0.023, 0.010, 0.027, 0.018, 0.015, 0.026]

# ---- styling ----
spine_col = '#333333'
greys = ['#858585', '#c4c4c4', '#757575', '#a8a8a8', '#8f8f8f', '#cfcfcf', '#9c9c9c', '#7e7e7e',
         '#b8b8b8', '#8a8a8a', '#a0a0a0']
tick_font = {'family': 'Liberation Sans', 'size': 11}
lab_font = {'family': 'DejaVu Sans', 'size': 15.5}
title_font = {'family': 'DejaVu Sans', 'size': 14, 'weight': 'bold'}

fig = plt.figure(figsize=(11.32, 8.26), dpi=100)

ax_tl = fig.add_axes([0.0477, 0.5605, 0.3984, 0.4104])
ax_bl = fig.add_axes([0.0477, 0.0545, 0.3984, 0.4104])
ax_tr = fig.add_axes([0.5813, 0.5605, 0.4152, 0.4104])
ax_br = fig.add_axes([0.5804, 0.0569, 0.4161, 0.4104])


def style_axes(ax):
    for s in ['top', 'right']:
        ax.spines[s].set_visible(False)
    for s in ['left', 'bottom']:
        ax.spines[s].set_linewidth(2.8)
        ax.spines[s].set_color(spine_col)
    ax.tick_params(which='both', direction='in', length=4.5, width=1.3, color=spine_col, pad=5)
    for lab in ax.get_xticklabels() + ax.get_yticklabels():
        lab.set_fontfamily(tick_font['family'])
        lab.set_fontsize(tick_font['size'])


for ax, wins, ylo, title, xlab in [
        (ax_tl, win5, -3, 'Mean of Moving Windows at 5Hz', 'Sample Points'),
        (ax_bl, win6, -4, 'Mean of Moving Windows at 6Hz', 'Sample Points (upsampled to 600 Hz)')]:
    for i, w in enumerate(wins):
        x = np.linspace(0, 400, len(w))
        ax.plot(x, w, color=greys[i % len(greys)], linewidth=0.85, alpha=0.9)
    ax.set_xlim(0, 400)
    ax.set_ylim(ylo, 3)
    ax.xaxis.set_major_locator(MultipleLocator(100))
    ax.xaxis.set_minor_locator(MultipleLocator(50))
    ax.yaxis.set_major_locator(MultipleLocator(1))
    ax.set_title(title, fontdict=title_font, pad=4)
    ax.set_xlabel(xlab, fontdict=lab_font, labelpad=0)
    ax.set_ylabel('Voltage', fontdict=lab_font, labelpad=1)
    style_axes(ax)

for ax, f, a, xlim, title in [
        (ax_tr, freq5, amp5, (-0.2, 31.6), 'Spectrum of the Averaged Windows at 5Hz'),
        (ax_br, freq6, amp6, (-0.3, 30.4), 'Spectrum of the Averaged Windows at 6Hz')]:
    width = 0.8 * (f[1] - f[0])
    ax.bar(f, a, width=width, color='#6a6a6a', edgecolor='#c4c4c4', linewidth=0.8)
    ax.set_xlim(*xlim)
    ax.set_ylim(0, 0.9)
    ax.xaxis.set_major_locator(MultipleLocator(5))
    ax.yaxis.set_minor_locator(MultipleLocator(0.1))
    ax.set_yticks([0, 0.3, 0.6, 0.9])
    ax.set_yticklabels(['0', '0.3', '0.6', '0.9'])
    ax.set_title(title, fontdict=title_font, pad=4)
    ax.set_xlabel('Frequency (Hz)', fontdict=lab_font, labelpad=0)
    ax.set_ylabel('Amplitude (µV)', fontdict=lab_font, labelpad=0)
    style_axes(ax)
    ax.tick_params(axis='x', pad=6)

fig.savefig('out.png', dpi=100)
